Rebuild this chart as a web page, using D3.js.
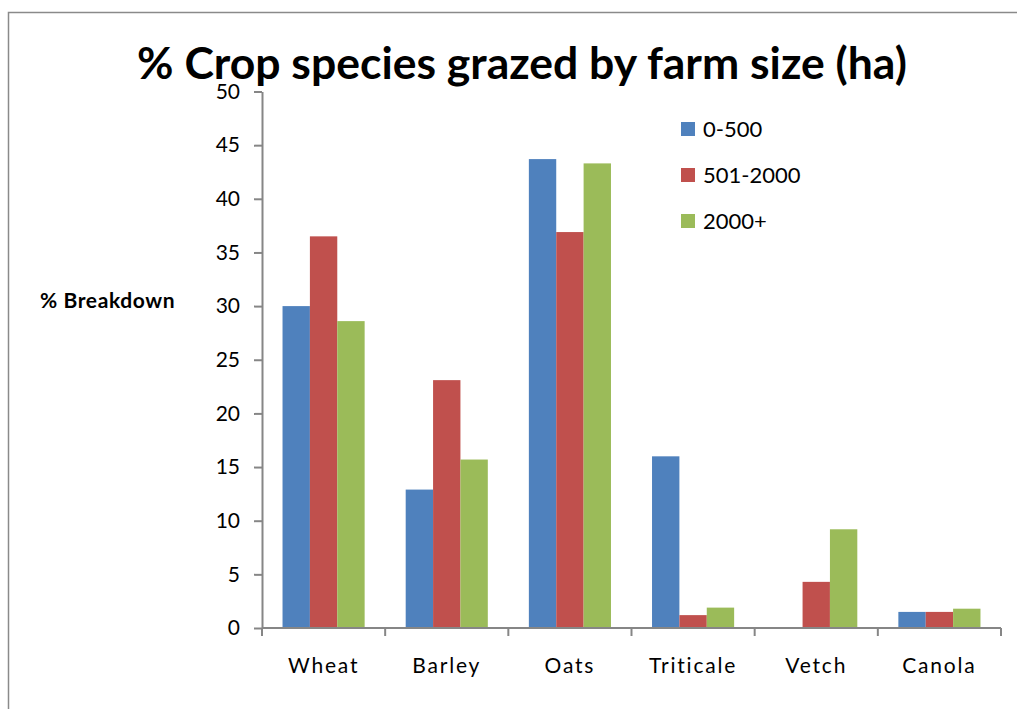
<!DOCTYPE html>
<html>
<head>
<meta charset="utf-8">
<script src="https://cdn.jsdelivr.net/npm/d3@7"></script>
<style>
  html, body { margin: 0; padding: 0; background: #fff; }
  svg { display: block; }
  text { font-family: Lato, "Open Sans", sans-serif; fill: #000; }
</style>
</head>
<body>
<svg id="chart" width="1017" height="709"></svg>
<script>
// Crop species grazed, % of farms, by farm size (ha)
const crops = ["Wheat", "Barley", "Oats", "Triticale", "Vetch", "Canola"];
const sizeGroups = ["0-500", "501-2000", "2000+"];
const small = [30.0, 12.9, 43.7, 16.0, 0.0, 1.5];   // 0-500 ha
const medium = [36.5, 23.1, 36.9, 1.2, 4.3, 1.5];   // 501-2000 ha
const large = [28.6, 15.7, 43.3, 1.9, 9.2, 1.8];    // 2000+ ha
const yTicks = [0, 5, 10, 15, 20, 25, 30, 35, 40, 45, 50];
const colors = ["#4F81BD", "#C0504D", "#9BBB59"];

const series = [small, medium, large];

const svg = d3.select("#chart");
const W = 1017, H = 709;
const plot = { left: 262, right: 1001, top: 91.5, bottom: 628 };
const axisColor = "#868686";

// outer frame (left and top edges visible)
svg.append("path")
  .attr("d", `M8.5,${H} L8.5,12.5 L${W},12.5`)
  .attr("fill", "none")
  .attr("stroke", "#8a8a8a")
  .attr("stroke-width", 1.5);

const x = d3.scaleBand().domain(crops).range([plot.left, plot.right]);
// 150% gap between groups: band = 3 bars + 1.5 bar widths
const barW = x.bandwidth() / 4.5;
const xInner = d3.scaleBand().domain(sizeGroups)
  .range([0, barW * 3]);
const y = d3.scaleLinear().domain([0, 50]).range([plot.bottom, plot.top]);

// bars
const groups = svg.append("g").selectAll("g")
  .data(crops)
  .join("g")
  .attr("transform", d => `translate(${x(d) + barW * 0.75},0)`);

groups.selectAll("rect")
  .data((c, i) => sizeGroups.map((s, k) => ({ s, k, v: series[k][i] })))
  .join("rect")
  .attr("x", d => xInner(d.s))
  .attr("width", xInner.bandwidth())
  .attr("y", d => y(d.v))
  .attr("height", d => y(0) - y(d.v))
  .attr("fill", d => colors[d.k]);

// y axis
const yAxis = svg.append("g")
  .attr("transform", `translate(${plot.left},0)`)
  .call(d3.axisLeft(y).tickValues(yTicks).tickSize(8).tickPadding(14).tickSizeOuter(0));
yAxis.select(".domain").attr("stroke", axisColor).attr("stroke-width", 2);
yAxis.selectAll(".tick line").attr("stroke", axisColor).attr("stroke-width", 2);
yAxis.selectAll(".tick text")
  .attr("font-family", "Lato, sans-serif")
  .attr("font-size", 21)
  .attr("fill", "#000");

// x axis: tick marks on band boundaries, labels centred in bands
const xAxisG = svg.append("g").attr("transform", `translate(0,${plot.bottom})`);
xAxisG.append("line")
  .attr("x1", plot.left).attr("x2", plot.right)
  .attr("stroke", axisColor).attr("stroke-width", 2);
const bounds = crops.map(c => x(c)).concat([x(crops[crops.length - 1]) + x.bandwidth()]);
xAxisG.selectAll("line.bt")
  .data(bounds)
  .join("line")
  .attr("class", "bt")
  .attr("x1", d => d).attr("x2", d => d)
  .attr("y1", 0).attr("y2", 8)
  .attr("stroke", axisColor).attr("stroke-width", 2);
xAxisG.selectAll("text")
  .data(crops)
  .join("text")
  .attr("x", d => x(d) + x.bandwidth() / 2)
  .attr("y", 45)
  .attr("text-anchor", "middle")
  .attr("font-size", 21)
  .attr("letter-spacing", 1.8)
  .text(d => d);

// title
svg.append("text")
  .attr("x", 522)
  .attr("y", 79)
  .attr("text-anchor", "middle")
  .attr("font-size", 44.5)
  .attr("font-weight", 700)
  .text("% Crop species grazed by farm size (ha)");

// y axis title
svg.append("text")
  .attr("x", 40)
  .attr("y", 308)
  .attr("font-size", 21)
  .attr("font-weight", 700)
  .attr("letter-spacing", 0.6)
  .text("% Breakdown");

// legend
const legend = svg.append("g").attr("transform", "translate(681,129)");
const items = legend.selectAll("g")
  .data(sizeGroups)
  .join("g")
  .attr("transform", (d, i) => `translate(0,${i * 46})`);
items.append("rect")
  .attr("x", 0).attr("y", -7)
  .attr("width", 14).attr("height", 14)
  .attr("fill", (d, i) => colors[i]);
items.append("text")
  .attr("x", 22)
  .attr("y", 0)
  .attr("dy", "0.35em")
  .attr("font-size", 22)
  .text(d => d);
</script>
</body>
</html>
